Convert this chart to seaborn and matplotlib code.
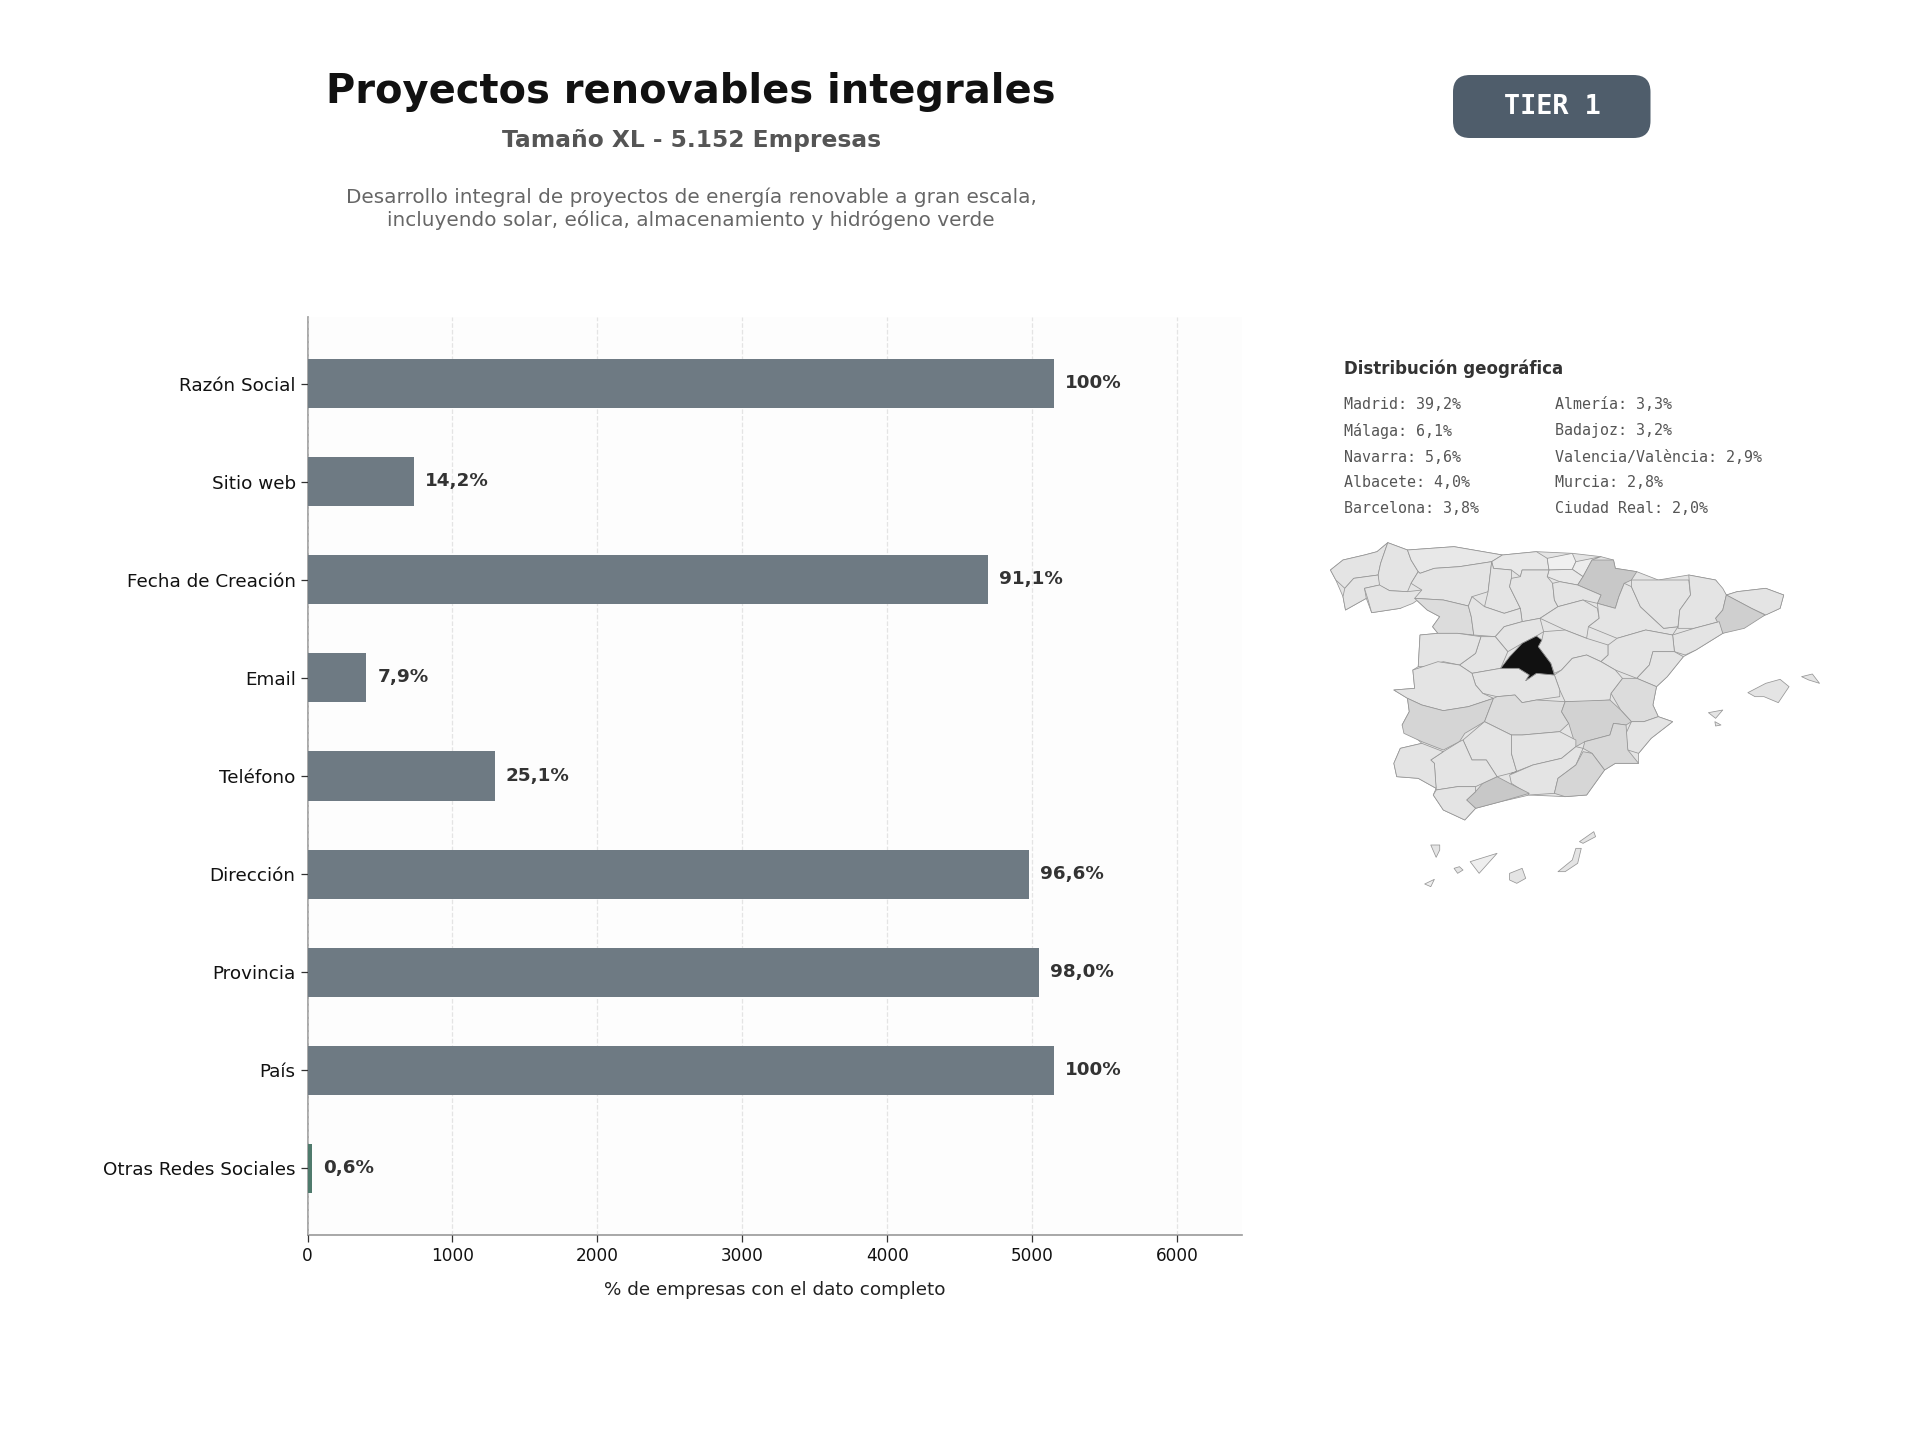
import matplotlib
matplotlib.use("Agg")
import matplotlib.pyplot as plt
from matplotlib.patches import FancyBboxPatch, Polygon
import pandas as pd
import seaborn as sns

# ---- chart data ----
CATEGORIES = ["Razón Social", "Sitio web", "Fecha de Creación", "Email", "Teléfono",
              "Dirección", "Provincia", "País", "Otras Redes Sociales"]
COUNTS = [5152, 732, 4693, 407, 1293, 4977, 5049, 5152, 31]
VALUE_LABELS = ["100%", "14,2%", "91,1%", "7,9%", "25,1%", "96,6%", "98,0%", "100%", "0,6%"]
BAR_COLORS = ["#6e7a83"] * 8 + ["#4f7a6c"]
X_TICKS = [0, 1000, 2000, 3000, 4000, 5000, 6000]
GEO_COL_1 = ["Madrid: 39,2%", "Málaga: 6,1%", "Navarra: 5,6%", "Albacete: 4,0%", "Barcelona: 3,8%"]
GEO_COL_2 = ["Almería: 3,3%", "Badajoz: 3,2%", "Valencia/València: 2,9%", "Murcia: 2,8%", "Ciudad Real: 2,0%"]

# ---- map outlines (province shapes, map units) ----
PENINSULA = [(85,150),(120,120),(180,105),(215,95),(245,68),(300,90),(430,80),(565,105),(660,95),(760,100),(840,110),(875,120),(880,145),(940,155),(1000,180),(1085,165),(1160,180),(1190,225),(1220,215),(1300,205),(1350,225),(1340,265),(1298,285),(1180,340),(1105,390),(1070,410),(1025,470),(995,500),(985,555),(1000,590),(1040,605),(980,655),(945,700),(945,730),(880,730),(850,750),(800,825),(740,830),(640,825),(560,845),(490,865),(460,900),(400,870),(372,825),(380,805),(330,775),(270,770),(262,730),(280,685),(340,670),(285,615),(305,575),(300,535),(262,510),(320,505),(315,450),(330,440),(335,345),(385,340),(370,320),(390,290),(355,270),(320,235),(280,265),(200,278),(185,235),(127,270),(120,230),(100,180)]
A_CORUNA = [(85,150),(120,120),(180,105),(215,95),(245,68),(225,130),(218,165),(150,175),(125,205),(100,180)]
LUGO = [(245,68),(300,90),(310,120),(330,155),(310,190),(300,215),(250,212),(218,195),(218,165),(225,130)]
PONTEVEDRA = [(125,205),(150,175),(218,165),(222,195),(180,205),(185,235),(127,270),(120,230)]
OURENSE = [(180,205),(222,195),(250,212),(300,215),(340,210),(335,235),(315,250),(280,265),(200,278),(190,240)]
ASTURIAS = [(300,90),(430,80),(565,105),(535,125),(445,140),(375,145),(335,160),(330,155),(310,120)]
CANTABRIA = [(565,105),(660,95),(690,115),(695,150),(620,150),(615,170),(590,150),(540,145),(535,125)]
BIZKAIA = [(690,115),(760,100),(770,125),(760,148),(695,150)]
GIPUZKOA = [(770,125),(840,110),(815,120),(790,170),(760,148)]
ALAVA = [(695,150),(760,148),(790,170),(775,195),(725,185),(690,170)]
NAVARRA = [(815,120),(875,120),(880,145),(940,155),(925,180),(905,190),(890,230),(880,265),(830,250),(840,225),(775,195),(790,170)]
LEON = [(335,160),(375,145),(445,140),(535,125),(525,215),(480,230),(470,258),(400,240),(320,235),(340,210),(310,190),(330,155)]
PALENCIA = [(540,145),(590,150),(590,175),(585,200),(615,265),(570,280),(515,260),(525,215),(535,125)]
BURGOS = [(590,175),(615,170),(620,150),(695,150),(690,170),(705,190),(710,240),(720,260),(670,295),(620,305),(615,265),(585,200)]
LA_RIOJA = [(705,190),(725,185),(775,195),(840,225),(830,250),(790,240),(720,260),(710,240)]
ZAMORA = [(320,235),(400,240),(470,258),(478,290),(485,345),(440,340),(385,340),(370,320),(390,290),(355,270)]
VALLADOLID = [(480,230),(515,260),(570,280),(615,265),(620,305),(570,320),(545,350),(485,345),(478,290),(470,258)]
SORIA = [(720,260),(790,240),(830,265),(835,295),(805,320),(800,355),(740,330),(670,295)]
SEGOVIA = [(620,305),(670,295),(680,335),(660,348),(620,370),(580,395),(545,350),(570,320)]
AVILA = [(545,350),(580,395),(560,445),(480,460),(445,435),(490,400),(505,350)]
SALAMANCA = [(385,340),(440,340),(505,350),(490,400),(445,435),(400,425),(350,440),(330,440),(335,345)]
MADRID = [(660,348),(675,360),(665,380),(700,430),(710,465),(660,460),(630,482),(640,465),(610,445),(560,445),(585,410),(620,370)]
GUADALAJARA = [(680,335),(740,330),(800,355),(860,375),(860,405),(840,425),(800,405),(760,415),(730,450),(710,460),(700,430),(665,380),(675,360)]
ZARAGOZA = [(830,250),(880,265),(890,230),(905,190),(925,200),(950,260),(1015,325),(1055,320),(1040,345),(965,330),(885,355),(805,320),(835,295)]
HUESCA = [(925,180),(1000,180),(1085,180),(1090,225),(1060,270),(1055,320),(1015,325),(950,260),(925,200)]
LLEIDA = [(1085,165),(1160,180),(1180,205),(1190,225),(1180,270),(1160,295),(1170,305),(1100,325),(1055,325),(1060,270),(1090,225)]
GIRONA = [(1190,225),(1220,215),(1300,205),(1350,225),(1340,265),(1300,285),(1260,265),(1225,245)]
BARCELONA = [(1190,225),(1225,245),(1260,265),(1298,285),(1240,325),(1180,340),(1160,295),(1180,270)]
TARRAGONA = [(1100,325),(1170,305),(1180,340),(1105,390),(1075,405),(1045,395),(1040,345)]
TERUEL = [(885,355),(965,330),(1040,345),(1045,395),(985,395),(975,435),(940,475),(880,450),(840,425),(860,405),(860,375)]
CASTELLON = [(985,395),(1045,395),(1070,410),(1025,470),(995,500),(940,475),(975,435)]
VALENCIA = [(900,475),(940,475),(995,500),(985,555),(1000,590),(960,605),(925,605),(895,570),(868,520)]
ALICANTE = [(925,605),(960,605),(1000,590),(1040,605),(980,655),(945,700),(915,690),(910,640)]
CUENCA = [(800,405),(840,425),(880,450),(900,475),(868,520),(865,540),(800,545),(740,545),(725,510),(710,465),(730,450),(760,415)]
TOLEDO = [(480,460),(560,445),(610,445),(640,465),(630,482),(660,460),(710,465),(725,510),(725,530),(660,540),(620,548),(600,525),(550,530),(510,520),(490,495)]
CACERES = [(315,450),(385,425),(445,435),(480,460),(490,495),(510,520),(540,535),(470,560),(400,572),(340,555),(300,535),(262,510),(320,505)]
BADAJOZ = [(300,535),(340,555),(400,572),(470,560),(540,535),(515,605),(460,640),(445,665),(400,690),(340,665),(290,640),(285,615),(305,575)]
CIUDAD_REAL = [(540,535),(550,530),(600,525),(620,548),(660,540),(740,545),(730,575),(750,610),(725,635),(620,645),(590,645),(515,605)]
ALBACETE = [(740,545),(865,540),(895,570),(925,605),(910,615),(875,610),(865,645),(795,665),(770,680),(750,610),(730,575)]
MURCIA = [(875,610),(910,615),(915,690),(945,730),(880,730),(850,750),(815,700),(790,685),(795,665),(865,645)]
CORDOBA = [(515,605),(590,645),(590,700),(605,755),(550,770),(520,720),(480,720),(455,660)]
JAEN = [(590,645),(620,645),(725,635),(770,660),(770,680),(730,715),(650,735),(590,760),(605,755),(590,700)]
GRANADA = [(770,680),(790,685),(770,735),(720,775),(710,820),(640,825),(590,790),(585,765),(650,735),(730,715)]
ALMERIA = [(790,695),(815,700),(850,750),(800,825),(740,830),(710,820),(720,775),(770,735)]
MALAGA = [(550,770),(585,790),(640,820),(560,845),(490,865),(465,840),(490,815),(510,790)]
SEVILLA = [(455,660),(480,720),(520,720),(550,770),(510,790),(490,800),(440,800),(380,810),(375,730),(365,720),(400,695),(445,665)]
HUELVA = [(340,670),(400,695),(365,720),(375,730),(380,805),(330,775),(270,770),(262,730),(280,685)]
CADIZ = [(380,810),(440,800),(490,800),(490,815),(465,840),(490,865),(460,900),(400,870),(372,825)]
MALLORCA = [(1250,518),(1300,490),(1340,478),(1365,500),(1335,548),(1295,530),(1270,530)]
MENORCA = [(1400,470),(1430,462),(1450,490),(1420,480)]
IBIZA = [(1140,578),(1180,570),(1160,595)]
FORMENTERA = [(1158,605),(1175,615),(1160,618)]
LANZAROTE = [(780,965),(820,935),(825,950),(790,970)]
FUERTEVENTURA = [(720,1055),(760,1020),(770,985),(785,985),(775,1030),(740,1055)]
GRAN_CANARIA = [(585,1060),(620,1045),(630,1075),(605,1090),(585,1080)]
TENERIFE = [(475,1025),(550,1000),(500,1060)]
GOMERA = [(430,1045),(445,1040),(455,1050),(440,1060)]
LA_PALMA = [(365,975),(390,975),(390,990),(380,1012)]
EL_HIERRO = [(348,1092),(375,1078),(365,1100)]

SHADE_BASE = "#e4e4e4"
MAP_SHADES = [
    (PENINSULA, SHADE_BASE),
    (A_CORUNA, SHADE_BASE), (LUGO, SHADE_BASE), (PONTEVEDRA, SHADE_BASE), (OURENSE, SHADE_BASE),
    (ASTURIAS, "#e8e8e8"), (CANTABRIA, "#e8e8e8"), (BIZKAIA, "#f0f0f0"), (GIPUZKOA, "#ececec"),
    (ALAVA, "#e8e8e8"), (NAVARRA, "#c8c8c8"), (LEON, SHADE_BASE), (PALENCIA, SHADE_BASE),
    (BURGOS, SHADE_BASE), (LA_RIOJA, SHADE_BASE), (ZAMORA, "#dcdcdc"), (VALLADOLID, SHADE_BASE),
    (SORIA, SHADE_BASE), (SEGOVIA, SHADE_BASE), (AVILA, SHADE_BASE), (SALAMANCA, SHADE_BASE),
    (GUADALAJARA, SHADE_BASE), (ZARAGOZA, SHADE_BASE), (HUESCA, SHADE_BASE),
    (LLEIDA, SHADE_BASE), (GIRONA, SHADE_BASE), (BARCELONA, "#cfcfcf"), (TARRAGONA, SHADE_BASE),
    (TERUEL, SHADE_BASE), (CASTELLON, SHADE_BASE), (VALENCIA, "#dcdcdc"), (ALICANTE, SHADE_BASE),
    (CUENCA, SHADE_BASE), (TOLEDO, SHADE_BASE), (CACERES, SHADE_BASE), (BADAJOZ, "#d5d5d5"),
    (CIUDAD_REAL, "#dcdcdc"), (ALBACETE, "#d2d2d2"), (MURCIA, "#d8d8d8"), (CORDOBA, SHADE_BASE),
    (JAEN, SHADE_BASE), (GRANADA, SHADE_BASE), (ALMERIA, "#d6d6d6"), (MALAGA, "#c8c8c8"),
    (SEVILLA, SHADE_BASE), (HUELVA, SHADE_BASE), (CADIZ, SHADE_BASE), (MALLORCA, SHADE_BASE),
    (MENORCA, SHADE_BASE), (IBIZA, SHADE_BASE), (FORMENTERA, SHADE_BASE), (LANZAROTE, SHADE_BASE),
    (FUERTEVENTURA, SHADE_BASE), (GRAN_CANARIA, SHADE_BASE), (TENERIFE, "#eeeeee"), (GOMERA, SHADE_BASE),
    (LA_PALMA, SHADE_BASE), (EL_HIERRO, "#eeeeee"), (MADRID, "#111111"),
]

sns.set_theme(style="white")
plt.rcParams["font.family"] = "DejaVu Sans"
W, H = 1920, 1440
fig = plt.figure(figsize=(W / 100, H / 100), dpi=100, facecolor="white")

# page layer in pixel coordinates
page = fig.add_axes([0, 0, 1, 1], zorder=0)
page.set_xlim(0, W)
page.set_ylim(H, 0)
page.axis("off")
page.text(691, 92, "Proyectos renovables integrales", ha="center", va="center",
          fontsize=28.8, fontweight="bold", color="#111111")
page.text(692, 141, "Tamaño XL - 5.152 Empresas", ha="center", va="center",
          fontsize=16.8, fontweight="bold", color="#555555")
page.text(691, 208.5, "Desarrollo integral de proyectos de energía renovable a gran escala,\n"
          "incluyendo solar, eólica, almacenamiento y hidrógeno verde",
          ha="center", va="center", fontsize=14.45, color="#666666", linespacing=1.17)
page.add_patch(FancyBboxPatch((1453, 75), 197.5, 63, boxstyle="round,pad=0,rounding_size=17",
                              fc="#4f5d6b", ec="none", lw=0))
page.text(1552, 106.5, "TIER 1", ha="center", va="center", fontsize=19.3, fontweight="bold",
          family="DejaVu Sans Mono", color="white")
page.text(1344, 369, "Distribución geográfica", ha="left", va="center", fontsize=11.95,
          fontweight="bold", color="#333333")
ROW_Y = [404.5, 431, 457, 482.5, 508.5]
for y, a, b in zip(ROW_Y, GEO_COL_1, GEO_COL_2):
    page.text(1344, y, a, ha="left", va="center", fontsize=10.8, family="DejaVu Sans Mono", color="#555555")
    page.text(1555, y, b, ha="left", va="center", fontsize=10.8, family="DejaVu Sans Mono", color="#555555")

# main bar chart
ax = fig.add_axes([307.5 / W, 1 - 1235 / H, 934 / W, 918 / H], zorder=1)
df = pd.DataFrame({"campo": CATEGORIES, "n": COUNTS})
sns.barplot(data=df, y="campo", x="n", hue="campo", palette=BAR_COLORS, saturation=1,
            width=0.5, legend=False, ax=ax, orient="h", zorder=3, linewidth=0)
ax.set_facecolor("#fdfdfd")
ax.set_xlim(0, 6445)
ax.set_ylim(8.68, -0.68)
ax.set_xticks(X_TICKS)
ax.set_ylabel("")
ax.set_xlabel("% de empresas con el dato completo", fontsize=13.25, labelpad=11.9, color="#222222")
ax.xaxis.grid(True, linestyle="--", color="#cccccc", alpha=0.5, linewidth=0.9, zorder=5)
ax.set_axisbelow(False)
ax.yaxis.grid(False)
ax.tick_params(axis="x", labelsize=12.2, length=5, width=0.9, color="#333333", labelcolor="#111111", bottom=True)
ax.tick_params(axis="y", labelsize=13.2, length=5, width=0.9, color="#333333", labelcolor="#111111", left=True)
for s in ("top", "right"):
    ax.spines[s].set_visible(False)
for s in ("left", "bottom"):
    ax.spines[s].set_color("#999999")
    ax.spines[s].set_linewidth(1.2)
for i, (v, lab) in enumerate(zip(COUNTS, VALUE_LABELS)):
    ax.text(v + 76, i - 0.005, lab, ha="left", va="center", fontsize=13.2, fontweight="bold", color="#333333")

# map
m = fig.add_axes([1300 / W, 1 - 900 / H, 560 / W, 380 / H], zorder=1)
m.set_xlim(0, 1563)
m.set_ylim(1140, 0)
m.axis("off")
for pts, col in MAP_SHADES:
    m.add_patch(Polygon(pts, closed=True, fc=col, ec="#969696", lw=0.55, joinstyle="round"))

fig.savefig("out.png", dpi=100, facecolor="white")
